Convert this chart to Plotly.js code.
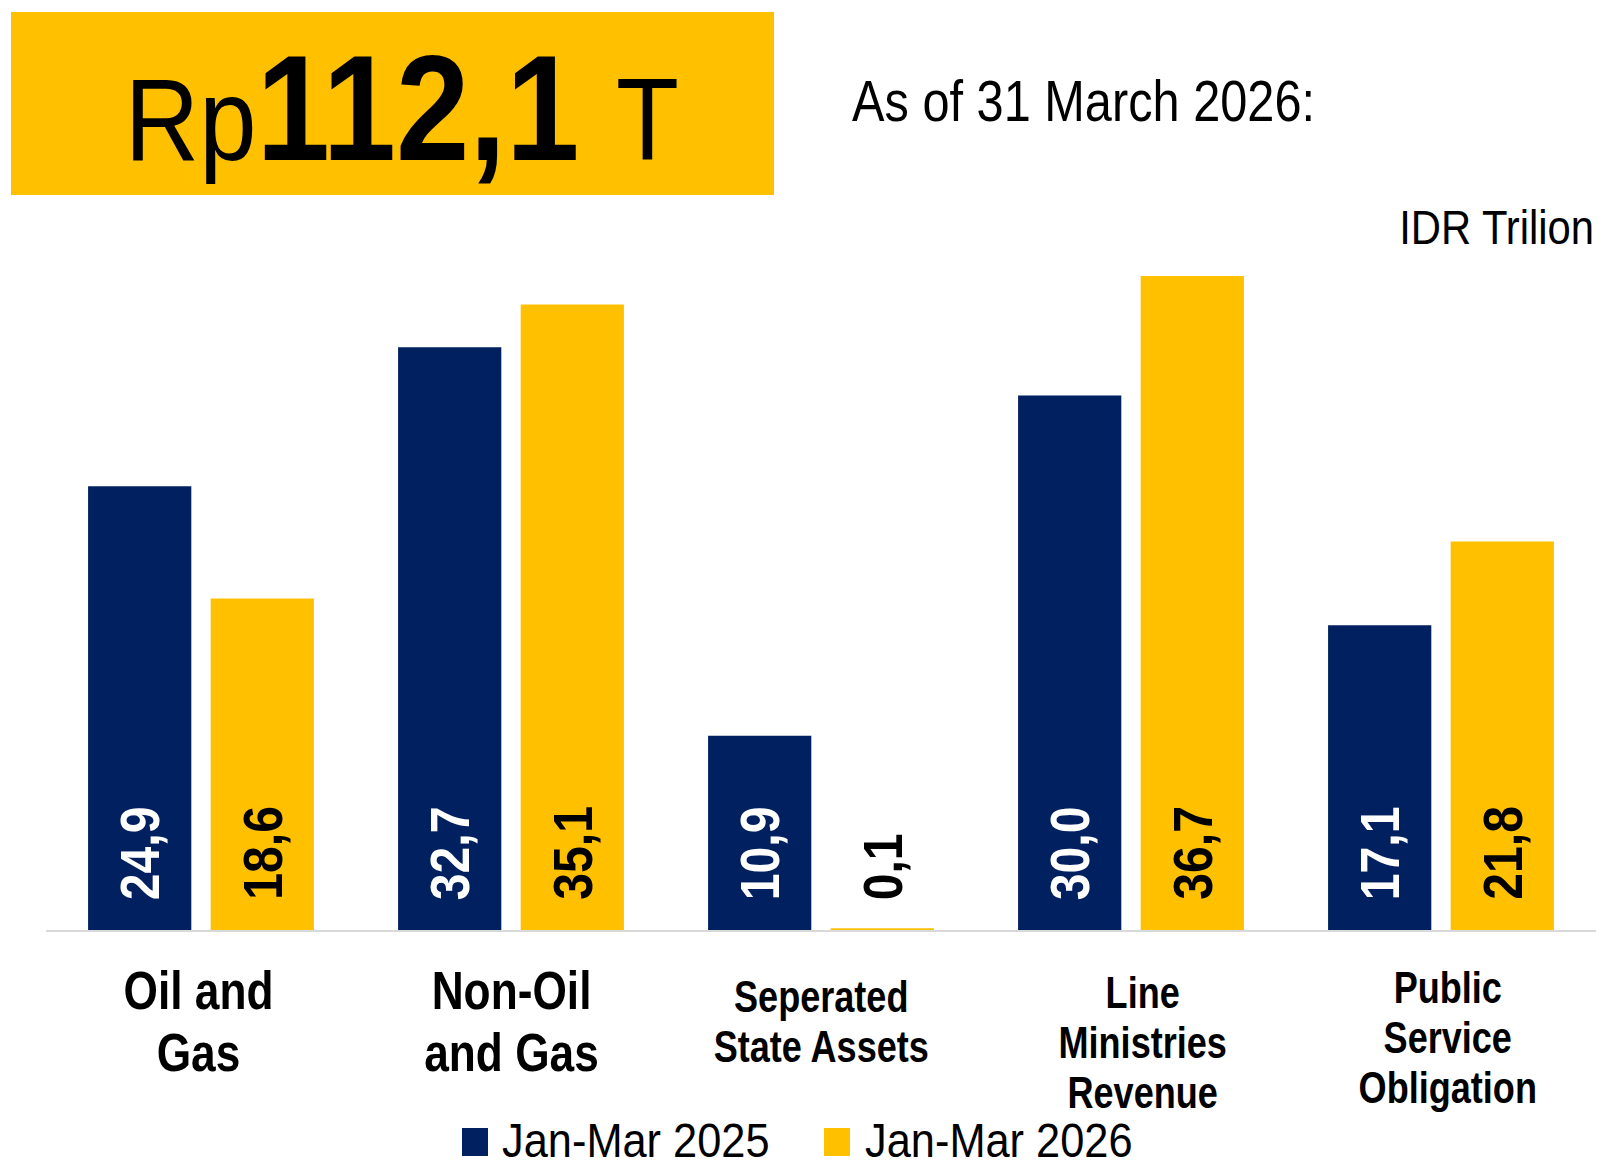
<!DOCTYPE html>
<html>
<head>
<meta charset="utf-8">
<script src="https://cdn.plot.ly/plotly-3.0.1.min.js"></script>
<style>html,body{margin:0;padding:0;background:#fff;}#chart{width:1603px;height:1168px;}</style>
</head>
<body>
<div id="chart"></div>
<script>
// ---- data ----
const categories = ['Oil and Gas', 'Non-Oil and Gas', 'Seperated State Assets', 'Line Ministries Revenue', 'Public Service Obligation'];
const categoryLines = [['Oil and', 'Gas'], ['Non-Oil', 'and Gas'], ['Seperated', 'State Assets'], ['Line', 'Ministries', 'Revenue'], ['Public', 'Service', 'Obligation']];
const seriesNames = ['Jan-Mar 2025', 'Jan-Mar 2026'];
const values2025 = [24.9, 32.7, 10.9, 30.0, 17.1];
const values2026 = [18.6, 35.1, 0.1, 36.7, 21.8];
const totalPrefix = 'Rp';
const totalValue = '112,1';
const totalSuffix = 'T';
const asOfText = 'As of 31 March 2026:';
const unitText = 'IDR Trilion';

// ---- style ----
const NAVY = '#002060';
const GOLD = '#FFC000';
const FONT = '"Liberation Sans", Arial, sans-serif';
const NARROW = 0.82; // horizontal squeeze to emulate Arial Narrow
const W = 1603, H = 1168;
const M = {l: 46, r: 7, t: 270, b: 238};
const PW = W - M.l - M.r, PH = H - M.t - M.b;
const px2x = p => (p - M.l) / PW;
const py2y = p => (H - M.b - p) / PH;
const BARGAP = 0.209, BARGROUPGAP = 0.158;
const fmt = v => v.toFixed(1).replace('.', ',');
const seriesColors = [NAVY, GOLD];
const labelColors = ['#FFFFFF', '#000000'];

const traces = [values2025, values2026].map((vals, s) => ({
  type: 'bar', name: seriesNames[s], x: categories, y: vals,
  marker: {color: seriesColors[s]}, hoverinfo: 'skip', showlegend: false
}));

const annotations = [];
const squeeze = []; // [pivot, factor] per annotation
function addAnn(a, pivot, sx) { annotations.push(a); squeeze.push([pivot, sx]); }

// banner text
addAnn({
  xref: 'paper', yref: 'paper', x: px2x(402), y: py2y(108), xanchor: 'center', yanchor: 'middle',
  text: totalPrefix + '<b><span style="font-size:150px">' + totalValue + ' </span></b>' + totalSuffix,
  showarrow: false, font: {family: FONT, size: 117, color: '#000'}
}, 'center', 0.88);
addAnn({
  xref: 'paper', yref: 'paper', x: px2x(850), y: py2y(100), xanchor: 'left', yanchor: 'middle',
  text: asOfText, showarrow: false, font: {family: FONT, size: 58, color: '#000'}
}, 'left', 0.84);
addAnn({
  xref: 'paper', yref: 'paper', x: 1, y: py2y(228), xanchor: 'right', yanchor: 'middle',
  text: unitText, showarrow: false, font: {family: FONT, size: 48, color: '#000'}
}, 'right', 0.87);

// value labels
const offset = (1 - BARGAP) / 4;
[values2025, values2026].forEach((vals, s) => {
  vals.forEach((v, i) => {
    addAnn({
      xref: 'x', yref: 'y', x: i + (s === 0 ? -offset : offset), y: 0,
      xanchor: 'center', yanchor: 'bottom', yshift: 28, textangle: -90,
      text: '<b>' + fmt(v) + '</b>', showarrow: false,
      font: {family: FONT, size: 56, color: labelColors[s]}
    }, 'left', 0.86);
  });
});

// category labels
const catGlyph = [54, 54, 44, 44, 44];
const catSpacing = [62, 62, 50, 50, 50];
const catShiftX = [-3, 0, 0, 11, 7];
const catShiftY = [-5, -5, 7, 3, -2];
categoryLines.forEach((lines, i) => {
  addAnn({
    xref: 'x', yref: 'paper', x: i, y: py2y(963), xanchor: 'center', yanchor: 'top',
    xshift: catShiftX[i], yshift: -catShiftY[i],
    text: lines.map(l => '<b><span style="font-size:' + catGlyph[i] + 'px">' + l + '</span></b>').join('<br>'),
    showarrow: false, font: {family: FONT, size: catSpacing[i] / 1.3, color: '#000'}
  }, 'center', NARROW);
});

// legend (drawn as swatches + labels)
const legendSwatchX = [462, 824];
const legendTextX = [501, 864];
const LEG_Y = 1140;
const shapes = [{type: 'rect', xref: 'paper', yref: 'paper', x0: px2x(11), x1: px2x(774), y0: py2y(195), y1: py2y(12),
                 fillcolor: GOLD, line: {width: 0}, layer: 'below'}];
seriesNames.forEach((nm, s) => {
  shapes.push({type: 'rect', xref: 'paper', yref: 'paper', x0: px2x(legendSwatchX[s]), x1: px2x(legendSwatchX[s] + 26),
               y0: py2y(LEG_Y + 16), y1: py2y(LEG_Y - 12), fillcolor: seriesColors[s], line: {width: 0}});
  addAnn({
    xref: 'paper', yref: 'paper', x: px2x(legendTextX[s]), y: py2y(LEG_Y), xanchor: 'left', yanchor: 'middle',
    text: nm, showarrow: false, font: {family: FONT, size: 49, color: '#000'}, borderpad: 0
  }, 'left', 0.885);
});

const layout = {
  width: W, height: H, margin: M,
  paper_bgcolor: '#fff', plot_bgcolor: '#fff',
  barmode: 'group', bargap: BARGAP, bargroupgap: BARGROUPGAP,
  xaxis: {type: 'category', showticklabels: false, ticks: '', showline: true, linecolor: '#D9D9D9', linewidth: 2, showgrid: false, zeroline: false, fixedrange: true},
  yaxis: {range: [0, 37.04], visible: false, showgrid: false, zeroline: false, fixedrange: true},
  showlegend: false,
  shapes: shapes,
  annotations: annotations
};

Plotly.newPlot('chart', traces, layout, {displayModeBar: false, staticPlot: true}).then(gd => {
  gd.querySelectorAll('g.annotation').forEach(g => {
    const idx = +g.getAttribute('data-index');
    const t = g.querySelector('text.annotation-text');
    if (!t || !squeeze[idx]) return;
    const [pivot, sx] = squeeze[idx];
    const bb = t.getBBox();
    const cx = pivot === 'left' ? bb.x : pivot === 'right' ? bb.x + bb.width : bb.x + bb.width / 2;
    const prev = t.getAttribute('transform') || '';
    t.setAttribute('transform', (prev + ' translate(' + cx + ',0) scale(' + sx + ',1) translate(' + (-cx) + ',0)').trim());
  });
});
</script>
</body>
</html>
